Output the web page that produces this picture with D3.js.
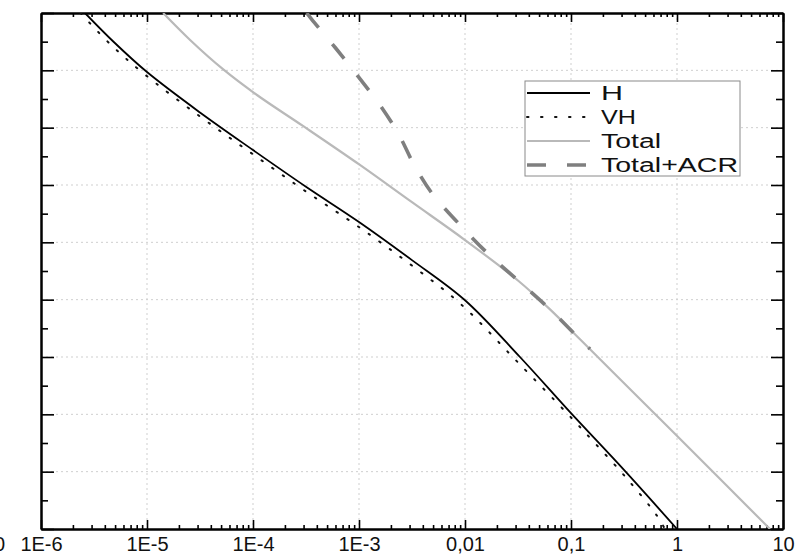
<!DOCTYPE html>
<html>
<head>
<meta charset="utf-8">
<script src="https://cdn.jsdelivr.net/npm/d3@7"></script>
<style>
    body { margin: 0; background: #fff; }
    #chart-area { width: 799px; height: 555px; overflow: hidden; }
    .tick text { font-family: "Liberation Sans", Arial, sans-serif; }
</style>
</head>
<body>
<div id="chart-area"></div>
<script>

// x tick values and their labels
const xTicks = [1e-6, 1e-5, 1e-4, 1e-3, 0.01, 0.1, 1, 10];
const xTickLabels = ["1E-6", "1E-5", "1E-4", "1E-3", "0,01", "0,1", "1", "10"];

// y axis has no readable labels, only major/minor ticks (0..9)
const yMajor = [0, 1, 2, 3, 4, 5, 6, 7, 8, 9];

// H (black solid)
const hX = [2.6e-6, 4.89e-6, 1.0e-5, 3.16e-5, 1e-4, 3.16e-4, 1e-3, 3.16e-3, 0.01, 0.033, 0.1, 0.316, 1];
const hY = [9, 8.49, 7.97, 7.265, 6.61, 5.97, 5.355, 4.69, 3.99, 3.0, 2.02, 1.03, 0];

// VH (dotted)
const vhX = [2.36e-6, 4.48e-6, 9.37e-6, 3.03e-5, 9.58e-5, 3.03e-4, 9.58e-4, 3.03e-3, 9.16e-3, 0.0303, 0.0938, 0.161, 0.335, 0.643, 0.77];
const vhY = [9, 8.46, 7.94, 7.22, 6.56, 5.91, 5.29, 4.62, 3.92, 2.94, 2.0, 1.535, 0.884, 0.239, 0];

// Total (light grey)
const totalX = [1.42e-5, 2.55e-5, 5.21e-5, 1.09e-4, 2.96e-4, 1.02e-3, 3.16e-3, 0.01, 0.0318, 0.0634, 0.1216, 0.594, 1.33, 7.53];
const totalY = [9, 8.53, 8.02, 7.57, 7.03, 6.35, 5.70, 5.04, 4.33, 3.83, 3.31, 2.04, 1.395, 0];

// Total+ACR (grey dashed)
const acrX = [3.21e-4, 3.58e-4, 6.04e-4, 9.93e-4, 1.61e-3, 2.39e-3, 3.29e-3, 4.9e-3, 8.6e-3, 0.0157, 0.0318, 0.0634, 0.1216, 0.151];
const acrY = [9, 8.89, 8.385, 7.88, 7.37, 6.87, 6.36, 5.85, 5.34, 4.84, 4.33, 3.83, 3.31, 3.14];

const legendNames = ["H", "VH", "Total", "Total+ACR"];

class LogChart {
    constructor(parentElement) {
        this.parentElement = parentElement;
        this.initVis();
    }

    initVis() {
        let vis = this;

        vis.margin = {top: 13, right: 16, bottom: 26, left: 41};
        vis.width = 799 - vis.margin.left - vis.margin.right;
        vis.height = 555 - vis.margin.top - vis.margin.bottom;

        vis.svg = d3.select("#" + vis.parentElement).append("svg")
            .attr("width", 799)
            .attr("height", 555)
            .append("g")
            .attr("transform", "translate(" + vis.margin.left + "," + vis.margin.top + ")");

        vis.x = d3.scaleLog()
            .domain([1e-6, 10])
            .range([0, vis.width]);

        vis.y = d3.scaleLinear()
            .domain([0, 9])
            .range([vis.height, 0]);

        vis.series = [
            {name: "Total", values: totalX.map((d, i) => ({x: d, y: totalY[i]})), color: "#b9b9b9", width: 2.2, dash: null},
            {name: "Total+ACR", values: acrX.map((d, i) => ({x: d, y: acrY[i]})), color: "#7f7f7f", width: 3.6, dash: "19,21"},
            {name: "VH", values: vhX.map((d, i) => ({x: d, y: vhY[i]})), color: "#111", width: 2, dash: "1.5,11.5"},
            {name: "H", values: hX.map((d, i) => ({x: d, y: hY[i]})), color: "#000", width: 1.8, dash: null}
        ];

        vis.drawGrid();
        vis.drawAxes();
        vis.drawLines();
        vis.drawLegend();
    }

    drawGrid() {
        let vis = this;

        vis.svg.append("g").selectAll(".vgrid")
            .data(xTicks.slice(1, -1))
            .enter().append("line")
            .attr("x1", d => vis.x(d)).attr("x2", d => vis.x(d))
            .attr("y1", 0).attr("y2", vis.height)
            .attr("stroke", "#cfcfcf")
            .attr("stroke-dasharray", "2,3");

        vis.svg.append("g").selectAll(".hgrid")
            .data(yMajor.slice(1, -1))
            .enter().append("line")
            .attr("x1", 0).attr("x2", vis.width)
            .attr("y1", d => vis.y(d)).attr("y2", d => vis.y(d))
            .attr("stroke", "#cfcfcf")
            .attr("stroke-dasharray", "2,3");
    }

    drawAxes() {
        let vis = this;

        // minor log ticks 2..9 per decade
        let minorX = [];
        xTicks.slice(0, -1).forEach(d => {
            for (let k = 2; k <= 9; k++) minorX.push(d * k);
        });
        let minorY = yMajor.slice(0, -1).map(d => d + 0.5);

        let styleAxis = g => {
            g.select(".domain").attr("stroke", "#000").attr("stroke-width", 2);
            g.selectAll(".tick line").attr("stroke", "#000").attr("stroke-width", 1.6);
        };

        // bottom
        vis.svg.append("g")
            .attr("transform", `translate(0,${vis.height})`)
            .call(d3.axisBottom(vis.x).tickValues(minorX).tickSize(-4).tickFormat("").tickSizeOuter(0))
            .call(styleAxis);
        vis.svg.append("g")
            .attr("class", "x-axis axis")
            .attr("transform", `translate(0,${vis.height})`)
            .call(d3.axisBottom(vis.x).tickValues(xTicks).tickSize(-9).tickSizeOuter(0).tickPadding(8)
                .tickFormat((d, i) => xTickLabels[i]))
            .call(styleAxis)
            .selectAll("text")
            .attr("fill", "#111")
            .style("font-size", "20px");

        // top
        vis.svg.append("g")
            .call(d3.axisTop(vis.x).tickValues(minorX).tickSize(-4).tickFormat("").tickSizeOuter(0))
            .call(styleAxis);
        vis.svg.append("g")
            .call(d3.axisTop(vis.x).tickValues(xTicks).tickSize(-9).tickFormat("").tickSizeOuter(0))
            .call(styleAxis);

        // left
        vis.svg.append("g")
            .call(d3.axisLeft(vis.y).tickValues(minorY).tickSize(-7).tickFormat("").tickSizeOuter(0))
            .call(styleAxis);
        vis.svg.append("g")
            .attr("class", "y-axis axis")
            .call(d3.axisLeft(vis.y).tickValues(yMajor).tickSize(-13).tickFormat("").tickSizeOuter(0))
            .call(styleAxis);

        // right
        vis.svg.append("g")
            .attr("transform", `translate(${vis.width},0)`)
            .call(d3.axisRight(vis.y).tickValues(minorY).tickSize(-7).tickFormat("").tickSizeOuter(0))
            .call(styleAxis);
        vis.svg.append("g")
            .attr("transform", `translate(${vis.width},0)`)
            .call(d3.axisRight(vis.y).tickValues(yMajor).tickSize(-12).tickFormat("").tickSizeOuter(0))
            .call(styleAxis);

        // y label left over at the far left edge
        vis.svg.append("text")
            .attr("x", -36)
            .attr("y", vis.height + 22)
            .attr("text-anchor", "end")
            .attr("font-family", "Liberation Sans, Arial, sans-serif")
            .attr("font-size", 20)
            .attr("fill", "#111")
            .text("0");
    }

    drawLines() {
        let vis = this;

        vis.svg.append("clipPath").attr("id", "plot-clip")
            .append("rect").attr("width", vis.width).attr("height", vis.height);

        let line = d3.line()
            .x(d => vis.x(d.x))
            .y(d => vis.y(d.y))
            .curve(d3.curveCatmullRom.alpha(0.5));

        vis.svg.append("g")
            .attr("clip-path", "url(#plot-clip)")
            .selectAll(".series")
            .data(vis.series)
            .enter().append("path")
            .attr("class", "series")
            .attr("d", d => line(d.values))
            .attr("fill", "none")
            .attr("stroke", d => d.color)
            .attr("stroke-width", d => d.width)
            .attr("stroke-dasharray", d => d.dash)
            .attr("stroke-linecap", d => d.name == "VH" ? "round" : "butt");
    }

    drawLegend() {
        let vis = this;

        let lx = 525 - vis.margin.left, ly = 81 - vis.margin.top;
        let legend = vis.svg.append("g")
            .attr("transform", `translate(${lx},${ly})`);

        legend.append("rect")
            .attr("width", 215)
            .attr("height", 95)
            .attr("fill", "#fff")
            .attr("stroke", "#8a8a8a")
            .attr("stroke-width", 1);

        let byName = {};
        vis.series.forEach(s => byName[s.name] = s);
        let widths = {"H": 22, "VH": 35, "Total": 60, "Total+ACR": 137};

        let rows = legend.selectAll(".legend-row")
            .data(legendNames)
            .enter().append("g")
            .attr("transform", (d, i) => `translate(0,${12 + i * 24})`);

        rows.append("line")
            .attr("x1", 2).attr("x2", 65)
            .attr("stroke", d => byName[d].color)
            .attr("stroke-width", d => byName[d].width)
            .attr("stroke-dasharray", d => d == "VH" ? "1.5,12.5" : byName[d].dash)
            .attr("stroke-linecap", d => d == "VH" ? "round" : "butt");

        rows.append("text")
            .attr("x", 76)
            .attr("y", 7)
            .attr("font-family", "Liberation Sans, Arial, sans-serif")
            .attr("font-size", 20)
            .attr("fill", "#111")
            .attr("textLength", d => widths[d])
            .attr("lengthAdjust", "spacingAndGlyphs")
            .text(d => d);
    }
}

new LogChart("chart-area");
</script>
</body>
</html>
